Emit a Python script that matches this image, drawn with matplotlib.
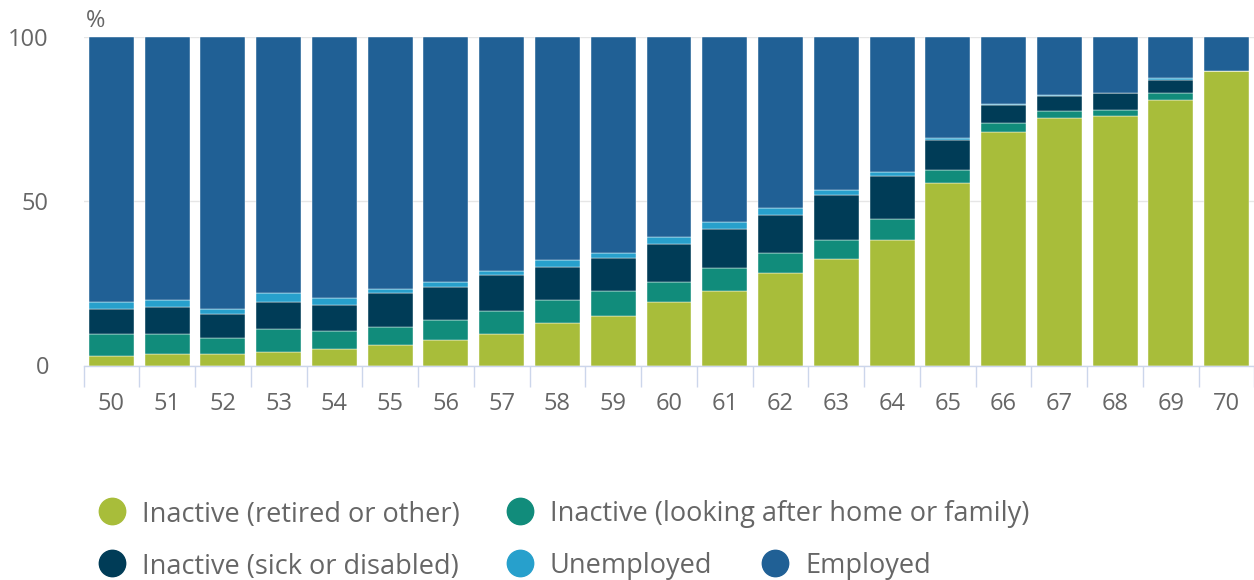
"""Economic activity by single year of age, 50 to 70."""

import matplotlib

matplotlib.use("Agg")

import matplotlib.pyplot as plt
import numpy as np
from matplotlib.lines import Line2D

plt.rcParams["font.family"] = ["Open Sans", "DejaVu Sans"]

ages = [str(a) for a in range(50, 71)]

retired = [2.9, 3.6, 3.6, 4.2, 5.0, 6.3, 7.7, 9.7, 13.1, 15.2, 19.2,
           22.7, 28.2, 32.3, 38.3, 55.6, 71.2, 75.3, 76.1, 80.8, 89.8]
home = [6.8, 6.1, 4.8, 6.8, 5.5, 5.4, 6.1, 6.8, 6.8, 7.5, 6.2,
        6.9, 6.0, 6.0, 6.3, 4.0, 2.7, 2.2, 1.9, 2.2, 0.0]
sick = [7.4, 8.2, 7.4, 8.2, 8.0, 10.3, 10.2, 11.0, 10.2, 10.2, 11.6,
        12.1, 11.6, 13.8, 13.0, 9.0, 5.5, 4.7, 4.9, 3.9, 0.0]
unemployed = [2.1, 2.0, 1.4, 2.8, 2.1, 1.4, 1.4, 1.4, 2.1, 1.3, 2.1,
              2.1, 2.1, 1.3, 1.3, 0.8, 0.2, 0.2, 0.2, 0.7, 0.0]
employed = [80.8, 80.1, 82.8, 78.0, 79.4, 76.6, 74.6, 71.1, 67.8, 65.8, 60.9,
            56.2, 52.1, 46.6, 41.1, 30.6, 20.4, 17.6, 16.9, 12.4, 10.2]

series = [
    ("Inactive (retired or other)", retired, "#a8bd3a"),
    ("Inactive (looking after home or family)", home, "#118c7b"),
    ("Inactive (sick or disabled)", sick, "#003c57"),
    ("Unemployed", unemployed, "#27a0cc"),
    ("Employed", employed, "#206095"),
]

TEXT = "#666666"
AXIS = "#ccd6eb"

fig = plt.figure(figsize=(12.54, 5.8), dpi=100)
ax = fig.add_axes([83.6 / 1254, 1 - 365.5 / 580, 1170.8 / 1254, 328.2 / 580])

x = np.arange(len(ages))
bottom = np.zeros(len(ages))
for name, vals, color in series:
    vals = np.array(vals)
    ax.bar(x, vals, bottom=bottom, width=0.807, color=color,
           edgecolor="white", linewidth=0.3, zorder=3)
    bottom += vals

ax.set_xlim(-0.5, len(ages) - 0.5)
ax.set_ylim(0, 100)
ax.set_yticks([0, 50, 100])
ax.yaxis.grid(True, color="#e6e6e6", linewidth=1.0, zorder=0)
ax.tick_params(axis="y", length=0, pad=25, labelsize=17, labelcolor=TEXT)

ax.set_xticks(x)
ax.set_xticklabels(ages)
ax.set_xticks(np.arange(-0.5, len(ages)), minor=True)
ax.tick_params(axis="x", which="major", length=0, pad=19, labelsize=17,
               labelcolor=TEXT)
ax.tick_params(axis="x", which="minor", length=15, width=1.0, color=AXIS)

for side in ("top", "right", "left"):
    ax.spines[side].set_visible(False)
ax.spines["bottom"].set_color(AXIS)
ax.spines["bottom"].set_linewidth(1.0)
ax.spines["bottom"].set_zorder(4)

fig.text(96 / 1254, 1 - 21 / 580, "%", ha="center", va="center",
         fontsize=17, color=TEXT)

# legend laid out in two rows like the original
legend_pos = [(112, 511), (520, 511), (112, 563), (520, 563), (775, 563)]
for (name, _, color), (px, py) in zip(series, legend_pos):
    fx, fy = px / 1254, 1 - py / 580
    fig.add_artist(Line2D([fx], [fy], marker="o", markersize=19,
                          color=color, linestyle="none",
                          transform=fig.transFigure))
    fig.text(fx + 30 / 1254, fy, name, ha="left", va="center_baseline",
             fontsize=19.5, color=TEXT)

fig.savefig("out.png", dpi=100)
plt.close(fig)
